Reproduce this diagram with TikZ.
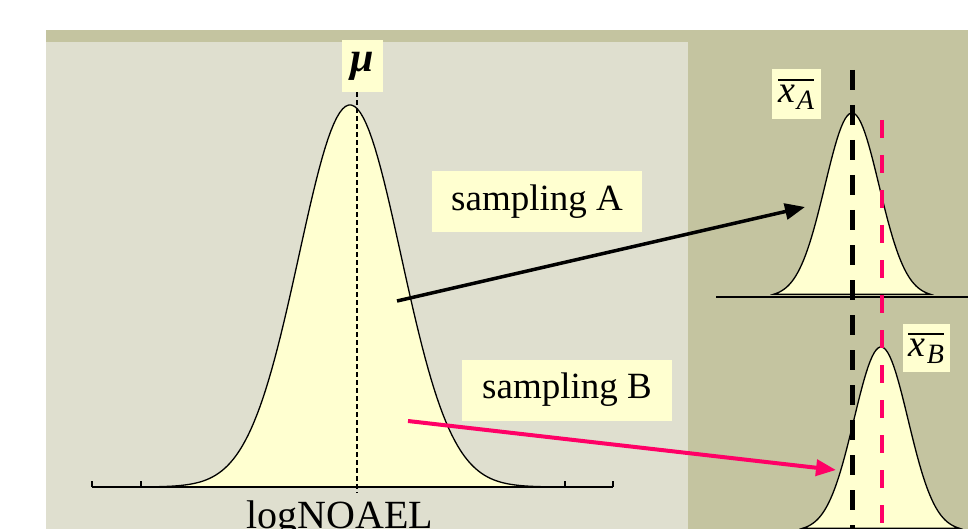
\documentclass[tikz,border=0pt]{standalone}
\usepackage{fontspec}
\setmainfont{Liberation Serif}
\usetikzlibrary{arrows.meta}
\definecolor{olivebg}{RGB}{196,196,160}
\definecolor{hatchgray}{RGB}{223,223,207}
\definecolor{cream}{RGB}{255,255,208}
\definecolor{hotpink}{RGB}{255,0,102}
\newcommand\barlbl[2]{\vbox{\hrule height 1.8pt\kern4pt\hbox{\itshape #1\kern2pt\raisebox{-7pt}{\fontsize{28}{30}\selectfont #2}}}}

\begin{document}
\begin{tikzpicture}[x=1pt, y=-1pt,
  lbl/.style={fill=cream, inner sep=0pt, align=center},
  samp/.style={lbl, minimum width=210pt, minimum height=61pt,
               font=\fontsize{37}{40}\selectfont},
  bell/.style={fill=cream, draw=black, line width=1.3pt},
  axis/.style={black, line width=2pt},
  arrA/.style={-{Triangle[length=20pt,width=16pt]}, black, line width=3.5pt},
  arrB/.style={-{Triangle[length=20pt,width=16pt]}, hotpink, line width=4pt},
  meanA/.style={black, line width=5pt, dash pattern=on 20pt off 15pt},
  meanB/.style={hotpink, line width=3.5pt, dash pattern=on 18pt off 17pt},
  muline/.style={black, line width=1.3pt, dash pattern=on 5pt off 3pt}
]
\useasboundingbox (0,0) rectangle (968,529);
\clip (0,0) rectangle (968,529);
\fill[white] (0,0) rectangle (968,529);
\fill[olivebg] (46,30) rectangle (968,529);
\fill[hatchgray] (46,42) rectangle (688,529);

% population
\filldraw[bell] plot[domain=-22:22, samples=150] ({350+10*\x},{487-382*exp(-\x*\x/52)}) -- cycle;
\draw[axis] (92,487) -- (613,487);
\foreach \t in {92,141,565,613} \draw[black, line width=1.3pt] (\t,487) -- (\t,481);

% samples
\filldraw[bell] plot[domain=-7.8:7.8, samples=80] ({852+10*\x},{297-184*exp(-\x*\x/14.6)}) -- cycle;
\draw[axis] (716,297) -- (968,297);
\filldraw[bell] plot[domain=-7.8:7.8, samples=80] ({881+10*\x},{531-184*exp(-\x*\x/14.6)}) -- cycle;

\coordinate (topA) at (852,70);  \coordinate (botA) at (852,529);
\coordinate (topB) at (882,120); \coordinate (botB) at (882,529);
\draw[meanA] (topA) -- (botA);
\draw[meanB] (topB) -- (botB);

\node[lbl, minimum width=41pt, minimum height=52pt,
      font=\fontsize{42}{42}\selectfont\bfseries\itshape] (mu) at (362,66) {μ};
\coordinate (mufoot) at (357,493);
\draw[muline] (mu.south -| mufoot) -- (mufoot);

\node[lbl, minimum width=49pt, minimum height=50pt,
      font=\fontsize{38}{38}\selectfont] (xa) at (796,94) {\barlbl{x}{A}};
\node[lbl, minimum width=47pt, minimum height=48pt,
      font=\fontsize{38}{38}\selectfont] (xb) at (926,348) {\barlbl{x}{B}};

\node[samp] (sa) at (537,202) {sampling A};
\node[samp] (sb) at (567,390) {sampling B};

\node[anchor=base, font=\fontsize{40}{44}\selectfont] (xlab) at (340,528) {logNOAEL};

\coordinate (pa) at (397,301); \coordinate (qa) at (805,207);
\coordinate (pb) at (408,421); \coordinate (qb) at (836,470);
\draw[arrA] (pa) -- (qa);
\draw[arrB] (pb) -- (qb);
\end{tikzpicture}
\end{document}
